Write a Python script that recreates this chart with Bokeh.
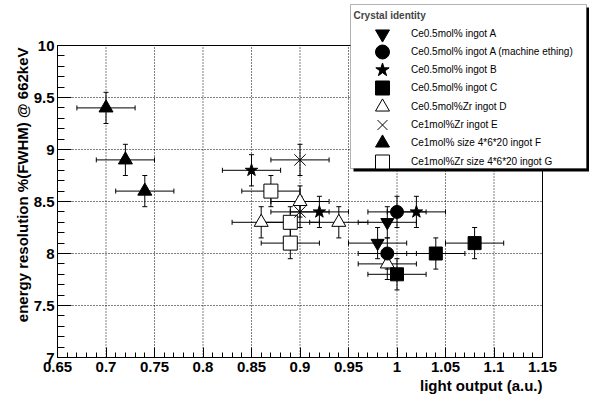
import math
import numpy as np
from bokeh.plotting import figure
from bokeh.models import (Range1d, FixedTicker, CustomJSTickFormatter, Legend,
                          LegendItem, Label, BoxAnnotation, Title)
from bokeh.embed import file_html
from bokeh.resources import INLINE

# ---------------- data ----------------
x_ticks = [0.65, 0.7, 0.75, 0.8, 0.85, 0.9, 0.95, 1.0, 1.05, 1.1, 1.15]
y_ticks = [7.0, 7.5, 8.0, 8.5, 9.0, 9.5, 10.0]

series_names = [
    "Ce0.5mol% ingot A",
    "Ce0.5mol% ingot A (machine ething)",
    "Ce0.5mol% ingot B",
    "Ce0.5mol% ingot C",
    "Ce0.5mol%Zr ingot D",
    "Ce1mol%Zr ingot E",
    "Ce1mol% size 4*6*20 ingot F",
    "Ce1mol%Zr size 4*6*20 ingot G",
]

ingotA_x = [0.99, 0.98]
ingotA_y = [8.3, 8.1]
ingotA_mach_x = [1.00, 0.99]
ingotA_mach_y = [8.4, 8.0]
ingotB_x = [0.85, 0.92, 1.02]
ingotB_y = [8.8, 8.4, 8.4]
ingotC_x = [1.00, 1.04, 1.08]
ingotC_y = [7.8, 8.0, 8.1]
ingotD_x = [0.90, 0.86, 0.94, 0.99]
ingotD_y = [8.5, 8.3, 8.3, 7.9]
ingotE_x = [0.90, 0.90]
ingotE_y = [8.9, 8.4]
ingotF_x = [0.70, 0.72, 0.74]
ingotF_y = [9.4, 8.9, 8.6]
ingotG_x = [0.87, 0.89, 0.89]
ingotG_y = [8.6, 8.3, 8.1]

x_error = 0.03
y_error = 0.15

x_title = "light output (a.u.)"
y_title = "energy resolution %(FWHM) @ 662keV"

# ---------------- layout ----------------
W, H = 589, 397
FL, FB = 57, 40            # left / bottom borders (px)
FW, FH = W - FL, H - FB    # frame fills the rest (legend lives in the extra room)
BOX_TOP_PX = 45            # canvas y of the top of the plot box
BOX_RIGHT_PX = 542         # canvas x of the right of the plot box
x_lo, x_hi = x_ticks[0], x_ticks[-1]
y_lo, y_hi = y_ticks[0], y_ticks[-1]
PX_PER_X = (BOX_RIGHT_PX - FL) / (x_hi - x_lo)
PX_PER_Y = (FH - BOX_TOP_PX) / (y_hi - y_lo)

p = figure(frame_width=FW, frame_height=FH,
           min_border_left=FL, min_border_right=0,
           min_border_top=0, min_border_bottom=FB,
           x_range=Range1d(x_lo, x_lo + FW / PX_PER_X),
           y_range=Range1d(y_lo, y_lo + FH / PX_PER_Y),
           output_backend="svg", toolbar_location=None, tools="")
p.background_fill_color = "white"
p.border_fill_color = "white"
p.outline_line_color = None
p.xgrid.visible = False
p.ygrid.visible = False

FONT = "Liberation Sans"

p.xaxis.ticker = FixedTicker(ticks=x_ticks,
                             minor_ticks=list(np.round(np.arange(0.65, 1.1501, 0.01), 2)))
p.yaxis.ticker = FixedTicker(ticks=y_ticks,
                             minor_ticks=list(np.round(np.arange(7.0, 10.001, 0.1), 2)))
p.xaxis.formatter = CustomJSTickFormatter(code="return String(Math.round(tick*100)/100);")
p.yaxis.formatter = CustomJSTickFormatter(code="return String(Math.round(tick*100)/100);")
p.xaxis.bounds = (x_lo, x_hi)
p.yaxis.bounds = (y_lo, y_hi)

for ax in (p.xaxis[0], p.yaxis[0]):
    ax.axis_line_color = "black"
    ax.major_tick_line_color = "black"
    ax.minor_tick_line_color = "black"
    ax.major_tick_out = 0
    ax.minor_tick_out = 0
    ax.major_label_text_font = FONT
    ax.major_label_text_font_style = "bold"
    ax.major_label_text_font_size = "15px"
    ax.major_label_text_color = "black"
p.xaxis.major_tick_in = 10
p.xaxis.minor_tick_in = 5
p.yaxis.major_tick_in = 14
p.yaxis.minor_tick_in = 7
p.xaxis.major_label_standoff = 4
p.yaxis.major_label_standoff = 3

# axis titles (side-panel titles, right/top aligned like ROOT)
p.add_layout(Title(text=x_title, align="right", offset=W - BOX_RIGHT_PX, standoff=0,
                   text_font=FONT, text_font_style="bold", text_font_size="15px",
                   text_color="black"), "below")
p.add_layout(Title(text=y_title, align="right", offset=BOX_TOP_PX + 2, standoff=0,
                   text_font=FONT, text_font_style="bold", text_font_size="15px",
                   text_color="black"), "left")

# dotted grid restricted to the plot box, at the major ticks
xt = np.array(x_ticks[1:-1]); yt = np.array(y_ticks[1:-1])
p.segment(x0=xt, y0=y_lo, x1=xt, y1=y_hi, line_color="black", line_dash="1 2", line_width=1)
p.segment(x0=x_lo, y0=yt, x1=x_hi, y1=yt, line_color="black", line_dash="1 2", line_width=1)
# plot box outline
p.quad(left=[x_lo], right=[x_hi], bottom=[y_lo], top=[y_hi],
       fill_alpha=0, line_color="black", line_width=1)

# ---------------- error bars ----------------
all_series = [
    (ingotA_x, ingotA_y), (ingotA_mach_x, ingotA_mach_y), (ingotB_x, ingotB_y),
    (ingotC_x, ingotC_y), (ingotD_x, ingotD_y), (ingotE_x, ingotE_y),
    (ingotF_x, ingotF_y), (ingotG_x, ingotG_y),
]
for xs, ys in all_series:
    xa = np.array(xs); ya = np.array(ys)
    p.segment(x0=xa - x_error, y0=ya, x1=xa + x_error, y1=ya, line_color="black", line_width=1)
    p.segment(x0=xa, y0=ya - y_error, x1=xa, y1=ya + y_error, line_color="black", line_width=1)
    p.scatter(x=xa - x_error, y=ya, marker="dash", angle=math.pi / 2, size=5, line_color="black")
    p.scatter(x=xa + x_error, y=ya, marker="dash", angle=math.pi / 2, size=5, line_color="black")
    p.scatter(x=xa, y=ya - y_error, marker="dash", size=5, line_color="black")
    p.scatter(x=xa, y=ya + y_error, marker="dash", size=5, line_color="black")

# ---------------- markers ----------------
rD = p.scatter(ingotD_x, ingotD_y, marker="triangle", size=14, fill_color="white", line_color="black")
rG = p.scatter(ingotG_x, ingotG_y, marker="square", size=14, fill_color="white", line_color="black")
rE = p.scatter(ingotE_x, ingotE_y, marker="x", size=16, line_color="black", line_width=1)
rF = p.scatter(ingotF_x, ingotF_y, marker="triangle", size=14, fill_color="black", line_color="black")
rA = p.scatter(ingotA_x, ingotA_y, marker="inverted_triangle", size=13, fill_color="black", line_color="black")
rA2 = p.scatter(ingotA_mach_x, ingotA_mach_y, marker="circle", size=13, fill_color="black", line_color="black")
rB = p.scatter(ingotB_x, ingotB_y, marker="star", size=13, fill_color="black", line_color="black")
rC = p.scatter(ingotC_x, ingotC_y, marker="square", size=13, fill_color="black", line_color="black")

renderers = [rA, rA2, rB, rC, rD, rE, rF, rG]

# ---------------- legend (box + shadow + one row per entry) ----------------
def fx(x):   # canvas x -> frame-relative screen x
    return x - FL

def fy(y):   # canvas y (from top) -> frame-relative screen y (from bottom)
    return FH - y

BOX_L, BOX_R, BOX_T, BOX_B = 350, 586, 4, 168
SH = 3
p.add_layout(BoxAnnotation(left=fx(BOX_L + SH), right=fx(BOX_R + SH),
                           top=fy(BOX_T + SH), bottom=fy(BOX_B + SH),
                           left_units="screen", right_units="screen",
                           top_units="screen", bottom_units="screen",
                           fill_color="black", fill_alpha=1, line_alpha=0))
p.add_layout(BoxAnnotation(left=fx(BOX_L), right=fx(BOX_R), top=fy(BOX_T), bottom=fy(BOX_B),
                           left_units="screen", right_units="screen",
                           top_units="screen", bottom_units="screen",
                           fill_color="white", fill_alpha=1, line_color="black", line_width=1))

GLYPH_W, GLYPH_H = 50, 35
ROW0, ROW_PITCH = 33, 18.3
GLYPH_CX = 382
for i, (n, r) in enumerate(zip(series_names, renderers)):
    cy = ROW0 + ROW_PITCH * i
    lg = Legend(items=[LegendItem(label=n, renderers=[r])],
                location=(fx(GLYPH_CX - GLYPH_W / 2), fy(cy + GLYPH_H / 2)),
                orientation="vertical", glyph_width=GLYPH_W, glyph_height=GLYPH_H,
                label_height=18, spacing=0, padding=0, margin=0, label_standoff=4,
                label_text_font=FONT, label_text_font_size="10px", label_text_color="black",
                background_fill_alpha=0, border_line_alpha=0)
    p.add_layout(lg)

p.add_layout(Label(x=fx(353), y=fy(15), x_units="screen", y_units="screen",
                   text="Crystal identity", text_font=FONT, text_font_style="bold",
                   text_font_size="10px", text_baseline="middle", text_align="left"))

open("out.html", "w").write(file_html(p, INLINE))
